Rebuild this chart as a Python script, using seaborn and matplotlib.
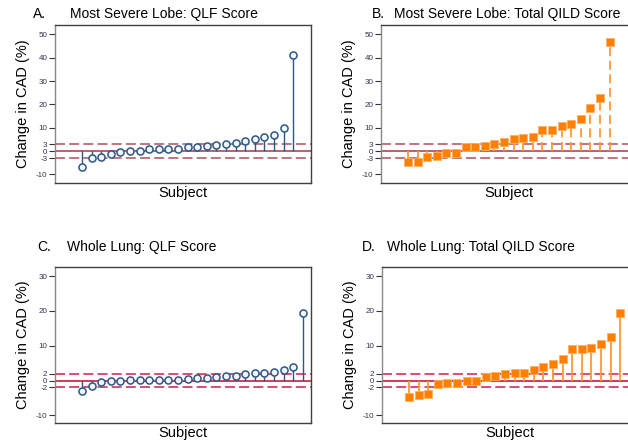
import numpy as np
import matplotlib.pyplot as plt
import seaborn as sns

# === DATA (change in CAD, %, sorted by subject) ===
lobe_qlf = [-6.7, -3.1, -2.6, -1.3, -0.6, 0.1, 0.1, 0.7, 0.7, 1.0, 1.0, 1.6,
            1.9, 2.1, 2.6, 3.0, 3.3, 4.1, 5.3, 6.1, 6.9, 9.7, 41.3]
lobe_qild = [-4.9, -4.9, -2.7, -2.3, -1.0, -0.7, 1.6, 1.7, 2.0, 2.9, 3.9,
             5.3, 5.7, 6.0, 9.0, 9.0, 10.6, 11.4, 13.9, 18.4, 22.6, 46.6]
lung_qlf = [-2.9, -1.5, -0.4, -0.2, -0.2, 0.1, 0.1, 0.1, 0.1, 0.1, 0.1, 0.4,
            0.6, 0.8, 1.1, 1.2, 1.2, 1.9, 2.1, 2.3, 2.5, 3.1, 4.0, 19.5]
lung_qild = [-4.7, -4.1, -3.9, -0.9, -0.8, -0.6, -0.2, -0.2, 0.9, 1.3, 1.9,
             2.1, 2.2, 3.1, 3.9, 4.7, 6.3, 9.1, 9.1, 9.2, 10.4, 12.4, 19.5]

letters = ["A.", "B.", "C.", "D."]
titles = ["Most Severe Lobe: QLF Score", "Most Severe Lobe: Total QILD Score",
          "Whole Lung: QLF Score", "Whole Lung: Total QILD Score"]
lobe_ticks = [-10, -3, 0, 3, 10, 20, 30, 40, 50]
lung_ticks = [-10, -2, 0, 2, 10, 20, 30]

sns.set_style("ticks")
plt.rcParams['font.family'] = ['Liberation Sans', 'DejaVu Sans']
plt.rcParams['text.color'] = 'black'
plt.rcParams['axes.labelcolor'] = 'black'

W, H = 628, 440
fig = plt.figure(figsize=(W / 100, H / 100), dpi=100)


def px_axes(left, top, right, bottom):
    return fig.add_axes([left / W, 1 - bottom / H, (right - left) / W, (bottom - top) / H])


BLUE = "#2b5887"
ORANGE = "#ff8000"

panels = [
    # values, box (px), ticks, ylim, threshold, line colours, style
    dict(vals=lobe_qlf, box=(55, 25, 311, 183), ticks=lobe_ticks, ylim=(-13.7, 54),
         thr=3, zero="#b04550", dash="#b0606a", kind="circle"),
    dict(vals=lobe_qild, box=(381, 25, 637, 183), ticks=lobe_ticks, ylim=(-13.7, 54),
         thr=3, zero="#b04550", dash="#b0606a", kind="square_dashed"),
    dict(vals=lung_qlf, box=(55, 267, 311, 423), ticks=lung_ticks, ylim=(-12.2, 32.6),
         thr=2, zero="#d4143f", dash="#d0305a", kind="circle"),
    dict(vals=lung_qild, box=(382, 267, 638, 423), ticks=lung_ticks, ylim=(-12.2, 32.6),
         thr=2, zero="#d4143f", dash="#d0305a", kind="square"),
]

title_pos = [(33, 70, 14), (372, 394, 14), (37, 67, 247), (362, 387, 247)]

for i, p in enumerate(panels):
    ax = px_axes(*p["box"])
    vals = np.array(p["vals"])
    x = np.arange(1, len(vals) + 1)

    # reference lines
    ax.axhline(0, color=p["zero"], lw=1.2, zorder=1)
    for t in (p["thr"], -p["thr"]):
        ax.axhline(t, color=p["dash"], lw=1.2, dashes=(6, 2.5), zorder=1)

    # stems + markers
    if p["kind"] == "circle":
        ax.vlines(x, 0, vals, color=BLUE, lw=1.0, zorder=2)
        sns.scatterplot(x=x, y=vals, ax=ax, marker="o", s=26, facecolor="#f4f6f9",
                        edgecolor=BLUE, linewidth=1.1, zorder=3, legend=False)
    else:
        ls = (0, (5, 2.5)) if p["kind"] == "square_dashed" else "-"
        ax.vlines(x, 0, vals, color="#ff9a33", lw=1.3, linestyles=[ls], zorder=2)
        sns.scatterplot(x=x, y=vals, ax=ax, marker="s", s=36, color=ORANGE,
                        edgecolor="#ffb060", linewidth=0.6, zorder=3, legend=False)

    ax.set_xlim(-1.8, 24.85)
    ax.set_ylim(*p["ylim"])
    ax.set_xticks([])
    ax.set_yticks(p["ticks"])
    ax.set_yticklabels([str(t) for t in p["ticks"]])
    ax.tick_params(axis="y", length=4, width=0.8, labelsize=5.8, colors="#333333",
                   labelcolor="#33334d", pad=1.5)
    for side in ["left", "right", "top", "bottom"]:
        ax.spines[side].set_color("#404040")
        ax.spines[side].set_linewidth(1.0)
    ax.spines["left"].set_color("#888888")

    ax.set_xlabel("Subject", fontsize=10.5, labelpad=2)
    ax.set_ylabel("Change in CAD (%)", fontsize=10.5, labelpad=4)

    lx, tx, ty = title_pos[i]
    fig.text(lx / W, 1 - ty / H, letters[i], fontsize=10, va="center", ha="left")
    fig.text(tx / W, 1 - ty / H, titles[i], fontsize=10, va="center", ha="left")

fig.savefig("out.png", dpi=100, facecolor="white")
